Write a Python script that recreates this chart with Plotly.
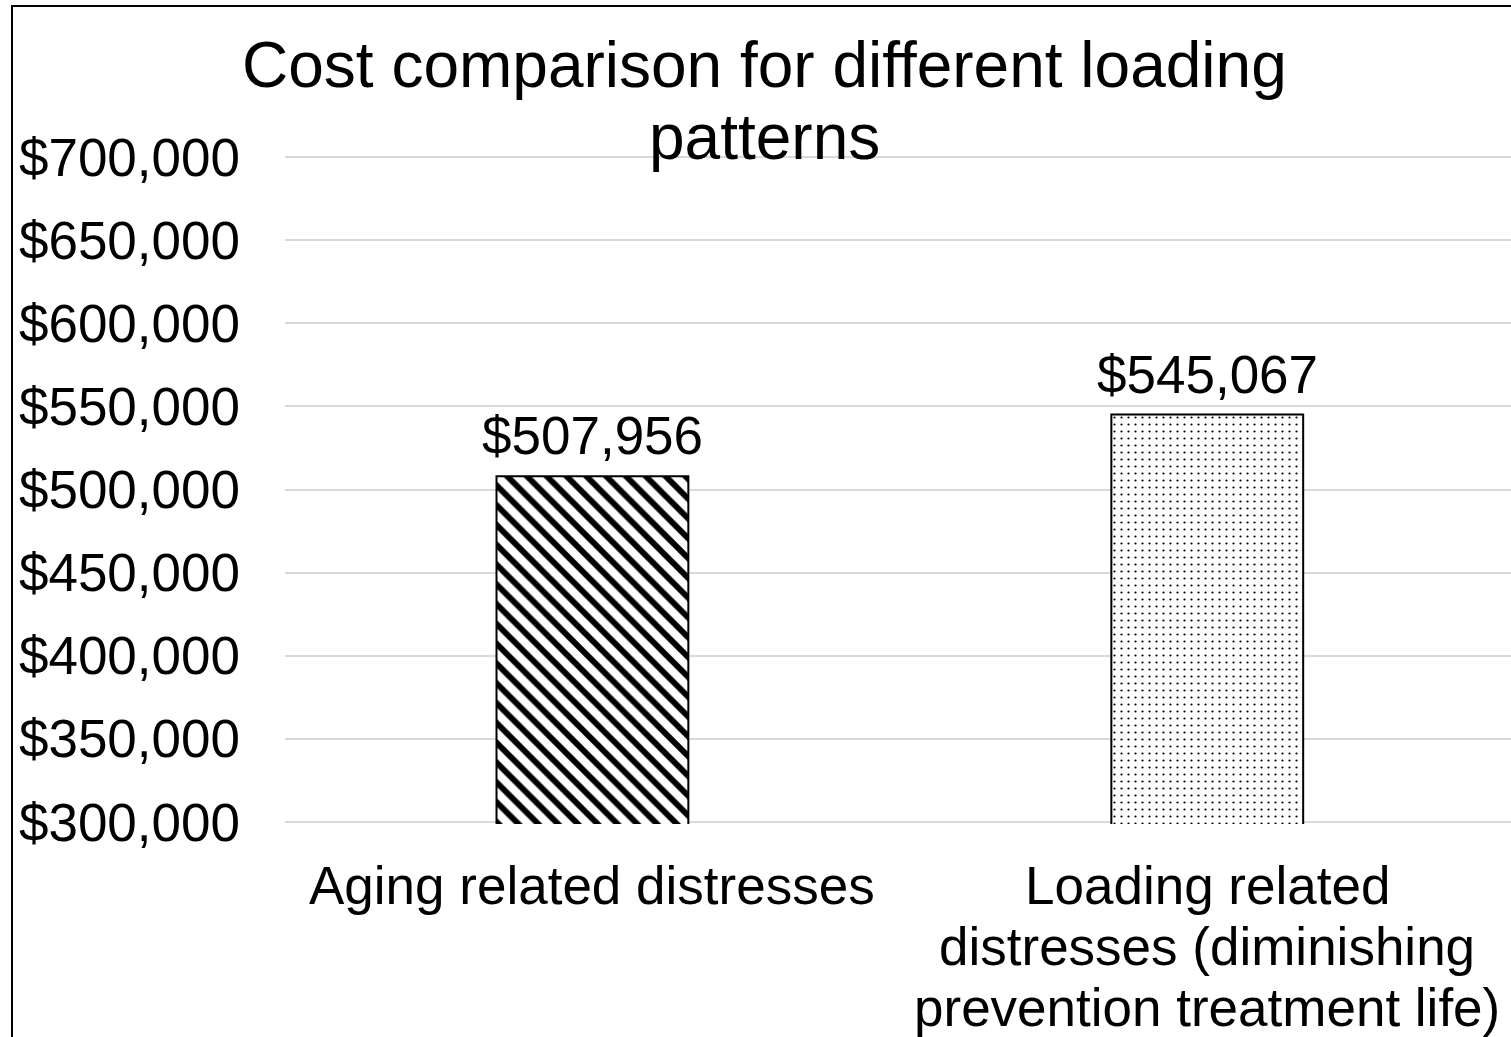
import plotly.graph_objects as go

# Chart data
categories = ["Aging related distresses",
              "Loading related distresses (diminishing prevention treatment life)"]
category_lines = [["Aging related distresses"],
                  ["Loading related", "distresses (diminishing", "prevention treatment life)"]]
costs = [507956, 545067]
title_lines = ["Cost comparison for different loading", "patterns"]
y_min, y_max, y_step = 300000, 700000, 50000

FONT = "Liberation Sans, Arial, sans-serif"
W, H = 1511, 1037
L, R, T, B = 285, 0, 155, 213
PW, PH = W - L - R, H - T - B
PAD = 1200  # small headroom so the end gridlines are kept

fig = go.Figure()
fig.add_trace(go.Bar(
    x=[0, 1],
    y=costs,
    width=0.312,
    marker=dict(
        color="white",
        line=dict(color="black", width=2),
        pattern=dict(shape=["\\", "."], size=[14, 7], solidity=[0.42, 0.08],
                     fgcolor="black", bgcolor="white", fillmode="replace"),
    ),
    hoverinfo="skip",
    showlegend=False,
))

annotations = []
# value labels above bars
for i, v in enumerate(costs):
    annotations.append(dict(x=i, y=v, xref="x", yref="y", text=f"${v:,}",
                            showarrow=False, yanchor="bottom", yshift=9,
                            font=dict(family=FONT, size=53, color="black")))
# category labels, one line each
for i, lines in enumerate(category_lines):
    for j, line in enumerate(lines):
        annotations.append(dict(x=i, y=y_min, xref="x", yref="y", text=line,
                                showarrow=False, yanchor="middle", yshift=-63 - 61 * j,
                                font=dict(family=FONT, size=53, color="black")))
# title, one line each
title_x = (764 - L) / PW
for j, line in enumerate(title_lines):
    annotations.append(dict(x=title_x, y=y_max, xref="paper", yref="y", text=line,
                            showarrow=False, yanchor="middle", yshift=92 - 72 * j,
                            font=dict(family=FONT, size=64, color="black")))

fig.update_layout(
    width=W, height=H,
    margin=dict(l=L, r=R, t=T, b=B, pad=0),
    paper_bgcolor="white", plot_bgcolor="white",
    annotations=annotations,
    shapes=[dict(type="rect", xref="paper", yref="paper",
                 x0=(12 - L) / PW, x1=(1700 - L) / PW,
                 y0=(H - B - 1200) / PH, y1=(H - B - 6) / PH,
                 line=dict(color="black", width=2), fillcolor="rgba(0,0,0,0)")],
    xaxis=dict(range=[-0.5, 1.494], showticklabels=False, showgrid=False,
               zeroline=False, showline=False, ticks=""),
    yaxis=dict(range=[y_min - PAD, y_max + PAD], dtick=y_step, tick0=0,
               tickprefix="$", tickformat=",",
               showgrid=True, gridcolor="#d9d9d9", gridwidth=1.5, zeroline=False,
               showline=False, ticks="", ticklabelstandoff=44,
               tickfont=dict(family=FONT, size=53, color="black")),
)

fig.write_html("out.html")
